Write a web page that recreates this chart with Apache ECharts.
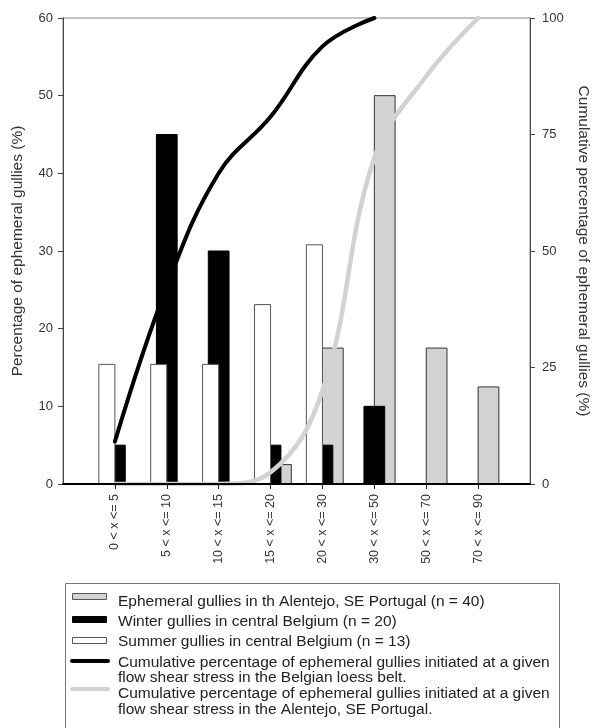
<!DOCTYPE html>
<html>
<head>
<meta charset="utf-8">
<title>Ephemeral gullies and flow shear stress</title>
<script src="https://cdn.jsdelivr.net/npm/echarts@6/dist/echarts.min.js"></script>
<style>
  html, body { margin: 0; padding: 0; background: #fff; }
  #chart { width: 592px; height: 728px; }
</style>
</head>
<body>
<div id="chart"></div>
<script>
// flow shear stress classes
const categories = ['0 < x <= 5', '5 < x <= 10', '10 < x <= 15', '15 < x <= 20', '20 < x <= 30', '30 < x <= 50', '50 < x <= 70', '70 < x <= 90']
// percentage of ephemeral gullies per class
const alentejo = [0, 0, 0, 2.5, 17.5, 50, 17.5, 12.5]
const winter = [5, 45, 30, 5, 5, 10, 0, 0]
const summer = [15.4, 15.4, 15.4, 23.1, 30.8, 0, 0, 0]
// cumulative percentages
const belgiumCum = [9.1, 42.4, 66.7, 78.8, 93.9, 100, null, null]
const alentejoCum = [0, 0, 0, 2.5, 20, 70, 87.5, 100]
// axis ticks
const leftTicks = [0, 10, 20, 30, 40, 50, 60]
const rightTicks = [0, 25, 50, 75, 100]

const font = 'Liberation Sans, Arial, Helvetica, sans-serif'
const chart = echarts.init(document.getElementById('chart'), null, { renderer: 'canvas' })

// one empty slot on each side, the classes sit on the ticks in between
const xData = [''].concat(categories, [''])
const toPoints = arr => arr.map((v, i) => [i + 1, v])
const padLine = arr => [null].concat(arr, [null])

// bars drawn relative to the class tick, from/to as share of the class width
function barShape (from, to, fill, stroke) {
  return function (params, api) {
    const v = api.value(1)
    if (!v) return null
    const top = api.coord([api.value(0), v])
    const base = api.coord([api.value(0), 0])
    const bw = api.size([1, 0])[0]
    return {
      type: 'rect',
      shape: { x: top[0] + from * bw, y: top[1], width: (to - from) * bw, height: base[1] - top[1] },
      style: { fill: fill, stroke: stroke, lineWidth: 1 }
    }
  }
}

const legendText = (x, y, text, lines) => ({
  type: 'text',
  x: x,
  y: y,
  style: {
    text: text,
    fontSize: 15.5,
    fontFamily: font,
    fill: '#222',
    lineHeight: 15.5,
    verticalAlign: lines > 1 ? 'top' : 'middle'
  }
})

const option = {
  backgroundColor: '#fff',
  animation: false,
  textStyle: { fontFamily: font },
  grid: {
    left: 63,
    right: 62,
    top: 18,
    bottom: 244,
    show: true,
    borderColor: '#888',
    borderWidth: 1,
    outerBoundsMode: 'none'
  },
  xAxis: {
    type: 'category',
    data: xData,
    boundaryGap: false,
    z: 10,
    axisLine: { lineStyle: { color: '#000', width: 2 } },
    axisTick: {
      length: 5,
      interval: (i) => i > 0 && i < xData.length - 1,
      lineStyle: { color: '#222' }
    },
    axisLabel: { rotate: 90, interval: 0, margin: 10, fontSize: 12.5, color: '#333', fontFamily: font },
    splitLine: { show: false }
  },
  yAxis: [
    {
      type: 'value',
      min: leftTicks[0],
      max: leftTicks[leftTicks.length - 1],
      interval: leftTicks[1] - leftTicks[0],
      name: 'Percentage of ephemeral gullies (%)',
      nameLocation: 'middle',
      nameGap: 37,
      nameTextStyle: { fontSize: 15.5, color: '#333', fontFamily: font },
      axisLine: { show: true, lineStyle: { color: '#444' } },
      axisTick: { show: true, length: 5, lineStyle: { color: '#444' } },
      axisLabel: { margin: 10, fontSize: 13, color: '#333', fontFamily: font },
      splitLine: { show: false }
    },
    {
      type: 'value',
      position: 'right',
      min: rightTicks[0],
      max: rightTicks[rightTicks.length - 1],
      interval: rightTicks[1] - rightTicks[0],
      name: 'Cumulative percentage of ephemeral gullies (%)',
      nameLocation: 'middle',
      nameRotate: -90,
      nameGap: 45,
      nameTextStyle: { fontSize: 15.5, color: '#333', fontFamily: font },
      axisLine: { show: true, lineStyle: { color: '#444' } },
      axisTick: { show: true, length: 5, lineStyle: { color: '#444' } },
      axisLabel: { margin: 12, fontSize: 13, color: '#333', fontFamily: font },
      splitLine: { show: false }
    }
  ],
  series: [
    {
      name: 'Ephemeral gullies in th Alentejo, SE Portugal (n = 40)',
      type: 'custom',
      z: 2,
      renderItem: barShape(0, 0.4, '#d3d3d3', '#333'),
      data: toPoints(alentejo)
    },
    {
      name: 'Winter gullies in central Belgium (n = 20)',
      type: 'custom',
      z: 3,
      renderItem: barShape(-0.2, 0.2, '#000', '#000'),
      data: toPoints(winter)
    },
    {
      name: 'Summer gullies in central Belgium (n = 13)',
      type: 'custom',
      z: 4,
      renderItem: barShape(-0.31, 0, '#fff', '#555'),
      data: toPoints(summer)
    },
    {
      name: 'Cumulative percentage, Belgian loess belt',
      type: 'line',
      yAxisIndex: 1,
      z: 6,
      smooth: 0.4,
      showSymbol: false,
      symbol: 'none',
      lineStyle: { color: '#000', width: 4, cap: 'round' },
      data: padLine(belgiumCum)
    },
    {
      name: 'Cumulative percentage, Alentejo',
      type: 'line',
      yAxisIndex: 1,
      z: 5,
      smooth: 0.4,
      showSymbol: false,
      symbol: 'none',
      lineStyle: { color: '#d2d2d2', width: 4.5, cap: 'round' },
      data: padLine(alentejoCum)
    }
  ],
  // legend box below the chart
  graphic: [
    { type: 'rect', shape: { x: 65.5, y: 583.5, width: 494, height: 160 }, style: { fill: '#fff', stroke: '#777', lineWidth: 1 } },
    { type: 'rect', shape: { x: 72.5, y: 593.5, width: 34, height: 6 }, style: { fill: '#d3d3d3', stroke: '#555', lineWidth: 1 } },
    { type: 'rect', shape: { x: 72.5, y: 616.5, width: 34, height: 6 }, style: { fill: '#000', stroke: '#000', lineWidth: 1 } },
    { type: 'rect', shape: { x: 72.5, y: 637.5, width: 34, height: 6 }, style: { fill: '#fff', stroke: '#555', lineWidth: 1 } },
    { type: 'line', shape: { x1: 72, y1: 661, x2: 108, y2: 661 }, style: { stroke: '#000', lineWidth: 4, lineCap: 'round' } },
    { type: 'line', shape: { x1: 72, y1: 689, x2: 108, y2: 689 }, style: { stroke: '#d2d2d2', lineWidth: 4, lineCap: 'round' } },
    legendText(118, 602, 'Ephemeral gullies in th Alentejo, SE Portugal (n = 40)', 1),
    legendText(118, 622, 'Winter gullies in central Belgium (n = 20)', 1),
    legendText(118, 642, 'Summer gullies in central Belgium (n = 13)', 1),
    legendText(118, 654.5, 'Cumulative percentage of ephemeral gullies initiated at a given\nflow shear stress in the Belgian loess belt.', 2),
    legendText(118, 686, 'Cumulative percentage of ephemeral gullies initiated at a given\nflow shear stress in the Alentejo, SE Portugal.', 2)
  ]
}

chart.setOption(option)
</script>
</body>
</html>
